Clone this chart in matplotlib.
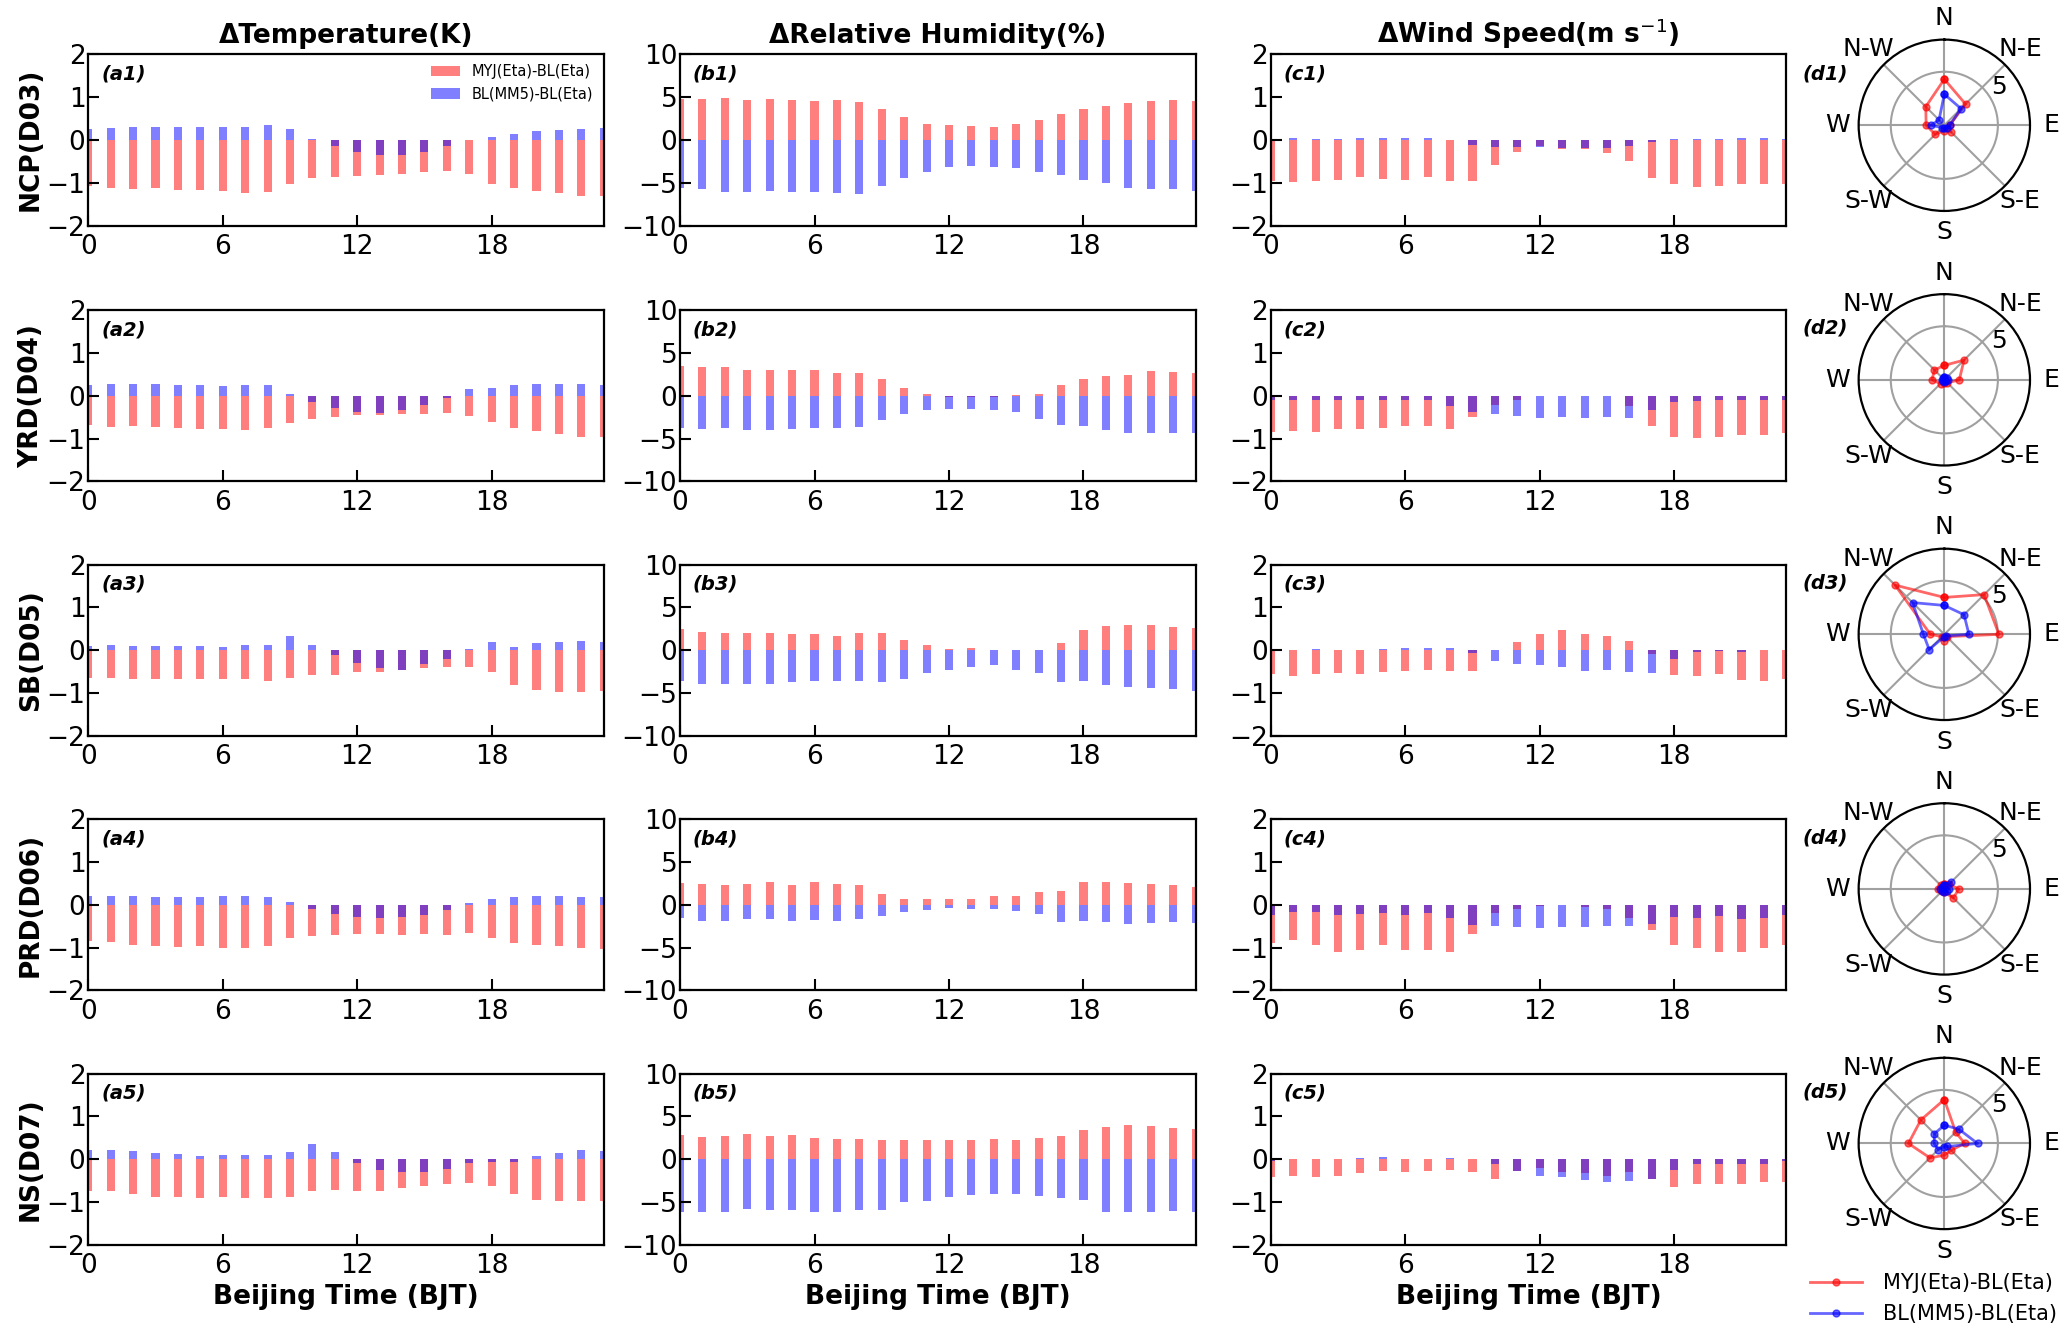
import numpy as np
import matplotlib
matplotlib.use("Agg")
import matplotlib.pyplot as plt

hours = np.arange(24)

# ---- Temperature (K): MYJ(Eta)-BL(Eta) and BL(MM5)-BL(Eta)
t_myj_d03 = [-1.08, -1.12, -1.15, -1.13, -1.16, -1.17, -1.2, -1.24, -1.21, -1.04, -0.9, -0.87,
             -0.84, -0.82, -0.79, -0.76, -0.73, -0.79, -1.02, -1.13, -1.19, -1.23, -1.3, -1.3]
t_bl_d03 = [0.26, 0.28, 0.29, 0.3, 0.3, 0.29, 0.3, 0.3, 0.34, 0.25, 0.02, -0.14,
            -0.28, -0.36, -0.36, -0.28, -0.14, 0.0, 0.06, 0.14, 0.2, 0.24, 0.25, 0.27]
t_myj_d04 = [-0.68, -0.72, -0.71, -0.74, -0.76, -0.78, -0.78, -0.8, -0.76, -0.64, -0.54, -0.49,
             -0.45, -0.45, -0.42, -0.43, -0.41, -0.47, -0.62, -0.75, -0.82, -0.89, -0.96, -0.96]
t_bl_d04 = [0.26, 0.27, 0.27, 0.27, 0.26, 0.26, 0.23, 0.24, 0.25, 0.04, -0.15, -0.29,
            -0.38, -0.4, -0.33, -0.22, -0.05, 0.16, 0.18, 0.24, 0.28, 0.28, 0.27, 0.26]
t_myj_d05 = [-0.65, -0.65, -0.66, -0.66, -0.68, -0.66, -0.66, -0.66, -0.72, -0.65, -0.58, -0.58,
             -0.5, -0.5, -0.47, -0.42, -0.4, -0.4, -0.5, -0.8, -0.92, -0.98, -0.98, -0.96]
t_bl_d05 = [0.1, 0.13, 0.11, 0.11, 0.11, 0.1, 0.07, 0.13, 0.12, 0.34, 0.13, -0.12,
            -0.29, -0.42, -0.45, -0.33, -0.2, 0.02, 0.2, 0.07, 0.16, 0.19, 0.22, 0.2]
t_myj_d06 = [-0.85, -0.88, -0.95, -0.97, -0.98, -0.97, -1.0, -1.01, -0.97, -0.77, -0.73, -0.71,
             -0.69, -0.69, -0.7, -0.68, -0.71, -0.67, -0.78, -0.9, -0.93, -0.97, -1.0, -1.03]
t_bl_d06 = [0.2, 0.2, 0.21, 0.18, 0.18, 0.19, 0.21, 0.2, 0.18, 0.06, -0.1, -0.21,
            -0.29, -0.32, -0.29, -0.24, -0.12, 0.04, 0.14, 0.18, 0.21, 0.21, 0.19, 0.18]
t_myj_d07 = [-0.73, -0.75, -0.82, -0.87, -0.87, -0.9, -0.88, -0.9, -0.9, -0.87, -0.74, -0.71,
             -0.75, -0.74, -0.67, -0.63, -0.57, -0.55, -0.63, -0.82, -0.95, -0.98, -0.97, -0.98]
t_bl_d07 = [0.22, 0.22, 0.19, 0.14, 0.13, 0.07, 0.1, 0.1, 0.1, 0.16, 0.36, 0.16,
            -0.08, -0.24, -0.3, -0.29, -0.22, -0.08, -0.06, -0.06, 0.07, 0.14, 0.21, 0.19]

# ---- Relative humidity (%)
rh_myj_d03 = [4.8, 4.75, 4.83, 4.67, 4.8, 4.67, 4.55, 4.67, 4.36, 3.57, 2.7, 1.83,
              1.68, 1.56, 1.48, 1.83, 2.35, 3.0, 3.57, 3.96, 4.24, 4.48, 4.67, 4.5]
rh_bl_d03 = [-5.6, -5.78, -6.05, -6.1, -6.0, -6.13, -6.13, -6.17, -6.37, -5.42, -4.4, -3.73,
             -3.14, -3.06, -3.14, -3.3, -3.73, -4.16, -4.7, -5.0, -5.58, -5.7, -5.78, -5.95]
rh_myj_d04 = [3.45, 3.4, 3.3, 2.95, 2.95, 3.0, 3.0, 2.7, 2.6, 2.0, 0.85, 0.2,
              -0.2, -0.1, -0.15, 0.1, 0.25, 1.3, 1.9, 2.3, 2.4, 2.85, 2.8, 2.65]
rh_bl_d04 = [-3.8, -3.85, -3.75, -3.95, -3.95, -3.9, -3.8, -3.8, -3.6, -2.8, -2.15, -1.65,
             -1.6, -1.55, -1.7, -1.85, -2.7, -3.45, -3.55, -4.05, -4.35, -4.35, -4.4, -4.35]
rh_myj_d05 = [2.5, 2.15, 2.05, 2.05, 2.0, 1.85, 1.85, 1.65, 2.0, 2.05, 1.2, 0.65,
              0.2, 0.25, 0.05, 0.05, 0.0, 0.8, 2.35, 2.85, 2.9, 2.9, 2.7, 2.55]
rh_bl_d05 = [-3.6, -3.9, -3.95, -3.95, -3.9, -3.65, -3.55, -3.6, -3.55, -3.7, -3.4, -2.65,
             -2.25, -1.95, -1.75, -2.25, -2.6, -3.7, -3.55, -4.0, -4.3, -4.4, -4.55, -4.75]
rh_myj_d06 = [2.5, 2.4, 2.35, 2.45, 2.6, 2.35, 2.65, 2.45, 2.25, 1.2, 0.7, 0.65,
              0.7, 0.65, 1.05, 1.05, 1.45, 1.65, 2.6, 2.6, 2.55, 2.45, 2.35, 2.05]
rh_bl_d06 = [-1.55, -1.85, -1.85, -1.7, -1.7, -1.95, -1.8, -1.95, -1.7, -1.3, -0.8, -0.6,
             -0.4, -0.55, -0.5, -0.7, -1.1, -2.0, -1.95, -2.0, -2.25, -2.15, -2.0, -2.15]
rh_myj_d07 = [2.8, 2.65, 2.75, 3.0, 2.75, 2.85, 2.5, 2.4, 2.4, 2.3, 2.2, 2.2,
              2.3, 2.3, 2.35, 2.25, 2.45, 2.7, 3.4, 3.8, 4.05, 3.85, 3.65, 3.5]
rh_bl_d07 = [-6.1, -6.1, -6.2, -5.8, -5.95, -5.95, -6.1, -6.1, -5.95, -5.95, -5.0, -4.85,
             -4.4, -4.15, -4.05, -4.1, -4.3, -4.55, -4.75, -6.1, -6.2, -6.2, -6.0, -6.1]

# ---- Wind speed (m/s)
ws_myj_d03 = [-0.95, -0.98, -0.95, -0.93, -0.87, -0.92, -0.93, -0.87, -0.95, -0.95, -0.58, -0.29,
              -0.15, -0.21, -0.21, -0.31, -0.49, -0.89, -1.02, -1.09, -1.07, -1.02, -1.04, -1.02]
ws_bl_d03 = [0.03, 0.04, 0.03, 0.03, 0.05, 0.05, 0.04, 0.04, 0.0, -0.12, -0.16, -0.16,
             -0.16, -0.18, -0.18, -0.18, -0.15, -0.04, 0.03, 0.01, 0.03, 0.05, 0.04, 0.03]
ws_myj_d04 = [-0.85, -0.82, -0.85, -0.78, -0.78, -0.76, -0.7, -0.7, -0.78, -0.5, -0.22, -0.1,
              0.0, 0.0, 0.0, 0.0, -0.25, -0.7, -0.97, -0.98, -0.97, -0.92, -0.92, -0.88]
ws_bl_d04 = [-0.1, -0.1, -0.1, -0.1, -0.1, -0.1, -0.1, -0.1, -0.25, -0.38, -0.42, -0.48,
             -0.52, -0.5, -0.53, -0.5, -0.52, -0.33, -0.15, -0.12, -0.1, -0.1, -0.1, -0.1]
ws_myj_d05 = [-0.55, -0.6, -0.55, -0.52, -0.55, -0.5, -0.48, -0.46, -0.48, -0.48, 0.0, 0.2,
              0.38, 0.48, 0.38, 0.33, 0.22, -0.08, -0.58, -0.6, -0.55, -0.7, -0.72, -0.68]
ws_bl_d05 = [0.0, 0.0, 0.02, 0.01, 0.0, 0.02, 0.06, 0.06, 0.06, -0.06, -0.24, -0.33,
             -0.35, -0.4, -0.48, -0.47, -0.5, -0.52, -0.2, -0.03, -0.02, -0.03, 0.0, 0.0]
ws_myj_d06 = [-0.9, -0.82, -0.95, -1.1, -1.05, -0.95, -1.05, -1.05, -1.1, -0.68, -0.2, -0.1,
              -0.03, 0.0, -0.05, -0.1, -0.3, -0.6, -0.93, -1.0, -1.1, -1.1, -1.0, -0.95]
ws_bl_d06 = [-0.25, -0.17, -0.17, -0.25, -0.22, -0.2, -0.25, -0.2, -0.3, -0.48, -0.5, -0.52,
             -0.55, -0.52, -0.52, -0.5, -0.5, -0.45, -0.28, -0.32, -0.27, -0.33, -0.32, -0.25]
ws_myj_d07 = [-0.42, -0.4, -0.42, -0.38, -0.33, -0.28, -0.3, -0.27, -0.25, -0.3, -0.45, -0.28,
              -0.2, -0.3, -0.33, -0.38, -0.3, -0.45, -0.65, -0.57, -0.57, -0.57, -0.53, -0.52]
ws_bl_d07 = [-0.05, 0.0, 0.0, 0.01, 0.04, 0.06, 0.0, 0.0, 0.02, 0.0, -0.1, -0.27,
             -0.4, -0.42, -0.48, -0.52, -0.5, -0.45, -0.25, -0.1, -0.1, -0.1, -0.1, -0.05]

# ---- Wind direction roses: N, NE, E, SE, S, SW, W, NW
dir_labels = ["N", "N-E", "E", "S-E", "S", "S-W", "W", "N-W"]
rose_myj_d03 = [4.3, 2.8, 0.5, 0.9, 0.5, 1.2, 1.7, 2.45]
rose_bl_d03 = [2.9, 2.2, 0.5, 0.4, 0.3, 0.3, 1.25, 0.7]
rose_myj_d04 = [1.35, 2.6, 1.4, 0.4, 0.3, 0.5, 1.15, 1.3]
rose_bl_d04 = [0.3, 0.3, 0.3, 0.2, 0.2, 0.2, 0.2, 0.2]
rose_myj_d05 = [3.45, 5.25, 5.1, 0.3, 0.6, 0.3, 1.3, 6.5]
rose_bl_d05 = [2.7, 2.6, 2.3, 0.2, 0.2, 2.0, 1.95, 4.2]
rose_myj_d06 = [0.5, 0.6, 1.35, 1.2, 0.3, 0.3, 0.6, 0.5]
rose_bl_d06 = [0.4, 0.9, 0.4, 0.3, 0.3, 0.3, 0.4, 0.3]
rose_myj_d07 = [4.1, 1.5, 1.9, 0.9, 1.1, 1.9, 3.35, 3.1]
rose_bl_d07 = [1.7, 1.9, 3.1, 0.4, 0.3, 0.8, 0.95, 1.3]

regions = ["NCP(D03)", "YRD(D04)", "SB(D05)", "PRD(D06)", "NS(D07)"]
temp_myj = [t_myj_d03, t_myj_d04, t_myj_d05, t_myj_d06, t_myj_d07]
temp_bl = [t_bl_d03, t_bl_d04, t_bl_d05, t_bl_d06, t_bl_d07]
rh_myj = [rh_myj_d03, rh_myj_d04, rh_myj_d05, rh_myj_d06, rh_myj_d07]
rh_bl = [rh_bl_d03, rh_bl_d04, rh_bl_d05, rh_bl_d06, rh_bl_d07]
ws_myj = [ws_myj_d03, ws_myj_d04, ws_myj_d05, ws_myj_d06, ws_myj_d07]
ws_bl = [ws_bl_d03, ws_bl_d04, ws_bl_d05, ws_bl_d06, ws_bl_d07]
rose_myj = [rose_myj_d03, rose_myj_d04, rose_myj_d05, rose_myj_d06, rose_myj_d07]
rose_bl = [rose_bl_d03, rose_bl_d04, rose_bl_d05, rose_bl_d06, rose_bl_d07]

col_titles = ["ΔTemperature(K)", "ΔRelative Humidity(%)", r"ΔWind Speed(m s$^{-1}$)"]
col_lims = [(-2, 2), (-10, 10), (-2, 2)]
col_ticks = [[-2, -1, 0, 1, 2], [-10, -5, 0, 5, 10], [-2, -1, 0, 1, 2]]
col_letters = ["a", "b", "c"]

fig = plt.figure(figsize=(20.67, 13.32), dpi=100)

col_left = [0.0427, 0.329, 0.6148]
row_bottom = [0.8307, 0.6386, 0.4475, 0.2564, 0.0653]
ax_w, ax_h = 0.2494, 0.1287
rose_bottom = [0.8416, 0.6505, 0.4594, 0.2683, 0.0772]

for i in range(5):
    data = [(temp_myj[i], temp_bl[i]), (rh_myj[i], rh_bl[i]), (ws_myj[i], ws_bl[i])]
    for j in range(3):
        ax = fig.add_axes([col_left[j], row_bottom[i], ax_w, ax_h])
        myj, bl = data[j]
        ax.bar(hours, myj, width=0.36, color="red", alpha=0.5, label="MYJ(Eta)-BL(Eta)")
        ax.bar(hours, bl, width=0.36, color="blue", alpha=0.5, label="BL(MM5)-BL(Eta)")
        ax.set_xlim(0, 23)
        ax.set_ylim(*col_lims[j])
        ax.set_xticks([0, 6, 12, 18])
        ax.set_yticks(col_ticks[j])
        ax.tick_params(direction="in", length=8, width=1.5, labelsize=19,
                       top=False, right=False)
        ax.tick_params(axis="x", pad=6)
        ax.tick_params(axis="y", pad=2)
        for sp in ax.spines.values():
            sp.set_linewidth(1.6)
        ax.text(0.025, 0.94, f"({col_letters[j]}{i + 1})", transform=ax.transAxes,
                fontsize=14, fontweight="bold", fontstyle="italic", va="top", ha="left")
        if i == 0:
            ax.set_title(col_titles[j], fontsize=19, fontweight="bold", pad=8)
            if j == 0:
                ax.legend(loc="upper right", fontsize=10.5, frameon=False,
                          borderaxespad=0.3)
        if i == 4:
            ax.set_xlabel("Beijing Time (BJT)", fontsize=19, fontweight="bold", labelpad=3)
        if j == 0:
            ax.set_ylabel(regions[i], fontsize=19, fontweight="bold", labelpad=2)

    # wind direction rose
    pax = fig.add_axes([0.8992, rose_bottom[i], 0.0829, 0.1287], projection="polar")
    pax.set_theta_zero_location("N")
    pax.set_theta_direction(-1)
    theta = np.deg2rad(np.arange(0, 360, 45))
    th = np.append(theta, theta[0])
    r1 = np.append(rose_myj[i], rose_myj[i][0])
    r2 = np.append(rose_bl[i], rose_bl[i][0])
    pax.plot(th, r1, "-o", color="red", alpha=0.6, lw=2, ms=5, label="MYJ(Eta)-BL(Eta)")
    pax.plot(th, r2, "-o", color="blue", alpha=0.6, lw=2, ms=5, label="BL(MM5)-BL(Eta)")
    pax.set_ylim(0, 8)
    pax.set_rticks([5])
    pax.set_rlabel_position(60)
    pax.set_thetagrids(np.arange(0, 360, 45), dir_labels)
    pax.tick_params(labelsize=18, pad=5)
    pax.grid(True, color="#a0a0a0", lw=1.5)
    pax.spines["polar"].set_linewidth(1.6)
    pax.text(-0.33, 0.8, f"(d{i + 1})", transform=pax.transAxes, fontsize=14,
             fontweight="bold", fontstyle="italic", ha="left", va="center")
    if i == 4:
        handles, labels = pax.get_legend_handles_labels()

fig.legend(handles, labels, loc="lower right", bbox_to_anchor=(1.004, -0.008),
           fontsize=15, frameon=False, handlelength=2.5, handletextpad=1.0)

fig.savefig("out.png", dpi=100)
